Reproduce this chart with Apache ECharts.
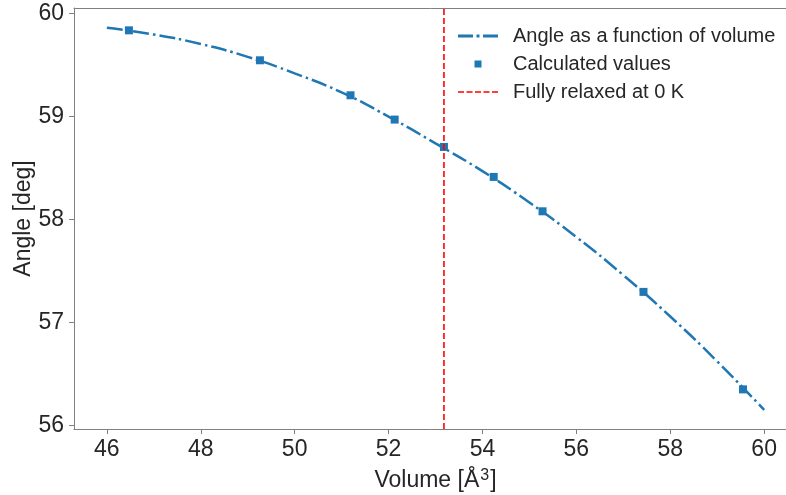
<!DOCTYPE html>
<html>
<head>
<meta charset="utf-8">
<script src="https://cdn.jsdelivr.net/npm/echarts@6/dist/echarts.min.js"></script>
<style>
  html, body { margin: 0; padding: 0; background: #fff; }
  #chart { width: 786px; height: 495px; }
</style>
</head>
<body>
<div id="chart"></div>
<script>
// Fitted angle curve, sampled along the volume range
const curveVolume = [46, 47, 48, 49, 50, 51, 52, 53, 54, 55, 56, 57, 58, 59, 60];
const curveAngle  = [59.862, 59.797, 59.705, 59.580, 59.420, 59.235, 59.000, 58.740, 58.470, 58.165, 57.830, 57.460, 57.058, 56.622, 56.150];

// Calculated points
const calcVolume = [46.47, 49.26, 51.19, 52.13, 53.18, 54.24, 55.28, 57.43, 59.55];
const calcAngle  = [59.838, 59.547, 59.207, 58.971, 58.705, 58.414, 58.08, 57.297, 56.35];

// Relaxed volume at 0 K
const relaxedVolume = 53.18;

// Axis ticks
const xTicks = [46, 48, 50, 52, 54, 56, 58, 60];
const yTicks = [56, 57, 58, 59, 60];

const xMin = 45.3, xMax = 60.7;
const yMin = 55.965, yMax = 60.055;

const FONT = '"Liberation Sans", Arial, sans-serif';
const TEXT = '#262626';
const SPINE = '#808080';
const BLUE = '#1f77b4';

// Legend glyphs (42 x 18 box; tiny corner stubs fix the bounding box)
const BOX = 'M0,0 L0.01,0 L0,0.01 Z M42,18 L41.99,18 L42,17.99 Z ';
const ICON_DASHDOT = 'path://' + BOX +
  'M0,7.6 L15,7.6 L15,10.4 L0,10.4 Z M18.5,7.6 L21.5,7.6 L21.5,10.4 L18.5,10.4 Z M25,7.6 L40,7.6 L40,10.4 L25,10.4 Z';
const ICON_SQUARE = 'path://' + BOX + 'M16.5,5.5 L23.5,5.5 L23.5,12.5 L16.5,12.5 Z';
const ICON_DASHED = 'path://' + BOX +
  'M0,8.2 L6,8.2 L6,9.8 L0,9.8 Z M8.5,8.2 L14.5,8.2 L14.5,9.8 L8.5,9.8 Z M17,8.2 L23,8.2 L23,9.8 L17,9.8 Z ' +
  'M25.5,8.2 L31.5,8.2 L31.5,9.8 L25.5,9.8 Z M34,8.2 L40,8.2 L40,9.8 L34,9.8 Z';

const chart = echarts.init(document.getElementById('chart'), null, { renderer: 'canvas' });

const zip = (a, b) => a.map((v, i) => [v, b[i]]);

const tickLabel = v => String(Math.round(v));

chart.setOption({
  animation: false,
  backgroundColor: '#ffffff',
  textStyle: { fontFamily: FONT, color: TEXT },
  grid: {
    left: 74, top: 8, width: 723, height: 421,
    outerBoundsMode: 'none', containLabel: false,
    show: false
  },
  legend: {
    orient: 'vertical',
    left: 453,
    top: 21,
    itemWidth: 42,
    itemHeight: 18,
    itemGap: 8,
    textStyle: { fontFamily: FONT, fontSize: 20, color: TEXT, padding: [0, 0, 0, 8] },
    data: [
      { name: 'Angle as a function of volume', icon: ICON_DASHDOT },
      { name: 'Calculated values', icon: ICON_SQUARE },
      { name: 'Fully relaxed at 0 K', icon: ICON_DASHED }
    ]
  },
  xAxis: [
    {
      type: 'value',
      min: xMin,
      max: xMax,
      name: '{a|Volume [Å}{s|3}{a|]}',
      nameLocation: 'middle',
      nameGap: 39,
      nameMoveOverlap: false,
      nameTextStyle: {
        rich: {
          a: { fontFamily: FONT, fontSize: 23, color: TEXT },
          s: { fontFamily: FONT, fontSize: 16, color: TEXT, verticalAlign: 'top', padding: [0, 1, 10, 1] }
        }
      },
      axisLine: { show: true, onZero: false, lineStyle: { color: SPINE, width: 1 } },
      axisTick: { show: true, length: 5, customValues: xTicks, lineStyle: { color: SPINE } },
      axisLabel: { customValues: xTicks, fontFamily: FONT, fontSize: 23, color: TEXT, margin: 9, formatter: tickLabel },
      splitLine: { show: false }
    },
    {
      // top spine
      type: 'value',
      position: 'top',
      min: xMin,
      max: xMax,
      axisLine: { show: true, onZero: false, lineStyle: { color: SPINE, width: 1 } },
      axisTick: { show: false },
      axisLabel: { show: false },
      splitLine: { show: false }
    }
  ],
  yAxis: {
    type: 'value',
    min: yMin,
    max: yMax,
    name: 'Angle [deg]',
    nameLocation: 'middle',
    nameGap: 39,
    nameMoveOverlap: false,
    nameTextStyle: { fontFamily: FONT, fontSize: 23, color: TEXT },
    axisLine: { show: true, onZero: false, lineStyle: { color: SPINE, width: 1 } },
    axisTick: { show: true, length: 5, customValues: yTicks, lineStyle: { color: SPINE } },
    axisLabel: { customValues: yTicks, fontFamily: FONT, fontSize: 23, color: TEXT, margin: 10, formatter: tickLabel },
    splitLine: { show: false }
  },
  series: [
    {
      name: 'Angle as a function of volume',
      type: 'line',
      data: zip(curveVolume, curveAngle),
      smooth: true,
      showSymbol: false,
      symbol: 'none',
      color: BLUE,
      lineStyle: { color: BLUE, width: 2.5, type: [16, 4, 2.5, 4] },
      z: 2
    },
    {
      name: 'Calculated values',
      type: 'scatter',
      data: zip(calcVolume, calcAngle),
      symbol: 'rect',
      symbolSize: 8,
      color: BLUE,
      itemStyle: { color: BLUE, opacity: 1 },
      z: 3
    },
    {
      name: 'Fully relaxed at 0 K',
      type: 'line',
      data: [[relaxedVolume, yMin], [relaxedVolume, yMax]],
      showSymbol: false,
      symbol: 'none',
      color: '#ff0000',
      lineStyle: { color: '#ff0000', width: 1.6, type: [6, 3] },
      z: 4
    }
  ]
});
</script>
</body>
</html>
